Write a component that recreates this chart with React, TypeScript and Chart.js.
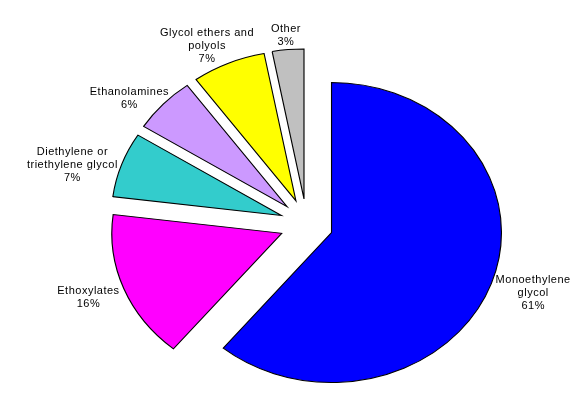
import React, { useEffect, useRef } from 'react';
import { Chart, registerables } from 'chart.js';

Chart.register(...registerables);

// ---- data ----
const categories: string[][] = [
  ['Monoethylene', 'glycol'],
  ['Ethoxylates'],
  ['Diethylene or', 'triethylene glycol'],
  ['Ethanolamines'],
  ['Glycol ethers and', 'polyols'],
  ['Other'],
];
const values: number[] = [61, 16, 7, 6, 7, 3];
const sliceColors: string[] = ['#0000FF', '#FF00FF', '#33CCCC', '#CC99FF', '#FFFF00', '#C0C0C0'];

// ---- styling ----
const STRETCH_X = 1.133; // pie is drawn as an ellipse (wider than tall)
const EXPLODE_X = 26.6; // screen px
const EXPLODE_Y = 25.2;
const LABEL_GAP = 6;
const LABEL_DY = 5;
const LINE_H = 13;
const FONT = '11px "Liberation Sans", Arial, sans-serif';

const explodePlugin = {
  id: 'explodeStretch',
  beforeDatasetsDraw(chart: any) {
    const ctx = chart.ctx;
    const area = chart.chartArea;
    const cx = (area.left + area.right) / 2;
    const cy = (area.top + area.bottom) / 2;
    const meta = chart.getDatasetMeta(0);
    meta.data.forEach((el: any) => {
      const a = (el.startAngle + el.endAngle) / 2;
      el.x = cx + (Math.cos(a) * EXPLODE_X) / STRETCH_X;
      el.y = cy + Math.sin(a) * EXPLODE_Y;
    });
    ctx.save();
    ctx.translate(cx, 0);
    ctx.scale(STRETCH_X, 1);
    ctx.translate(-cx, 0);
  },
  afterDatasetsDraw(chart: any) {
    const ctx = chart.ctx;
    ctx.restore();
    const area = chart.chartArea;
    const cx = (area.left + area.right) / 2;
    const meta = chart.getDatasetMeta(0);
    ctx.save();
    ctx.font = FONT;
    try {
      (ctx as any).letterSpacing = '0.5px';
    } catch (e) {}
    ctx.fillStyle = '#000';
    ctx.textAlign = 'center';
    ctx.textBaseline = 'middle';
    meta.data.forEach((el: any, i: number) => {
      const a = (el.startAngle + el.endAngle) / 2;
      const ux = Math.cos(a);
      const uy = Math.sin(a);
      const vx = cx + STRETCH_X * (el.x - cx);
      const vy = el.y;
      const r = el.outerRadius + LABEL_GAP;
      const ax = vx + STRETCH_X * r * ux;
      const ay = vy + r * uy;
      const lines = [...categories[i], values[i] + '%'];
      const w = Math.max(...lines.map((l) => ctx.measureText(l).width));
      const h = lines.length * LINE_H;
      const mx = ax + (ux * w) / 2;
      const my = ay + (uy * Math.abs(uy) * h) / 2 + LABEL_DY;
      lines.forEach((l, k) => {
        ctx.fillText(l, mx, my - h / 2 + LINE_H * (k + 0.5));
      });
    });
    ctx.restore();
  },
};

export default function App() {
  const ref = useRef<HTMLCanvasElement | null>(null);
  useEffect(() => {
    if (!ref.current) return;
    const chart = new Chart(ref.current, {
      type: 'pie',
      data: {
        labels: categories.map((c) => c.join(' ')),
        datasets: [
          {
            data: values,
            backgroundColor: sliceColors,
            borderColor: '#000000',
            borderWidth: 1,
            radius: 150,
            clip: false,
            borderJoinStyle: 'miter',
          } as any,
        ],
      },
      options: {
        animation: false,
        responsive: false,
        devicePixelRatio: 1,
        events: [],
        layout: { padding: { left: 30, top: 46, right: 0, bottom: 0 } },
        plugins: {
          legend: { display: false },
          tooltip: { enabled: false },
        },
      } as any,
      plugins: [explodePlugin as any],
    });
    return () => chart.destroy();
  }, []);
  return (
    <div style={{ position: 'fixed', left: 0, top: 0, width: 583, height: 402, background: '#fff' }}>
      <canvas ref={ref} width={583} height={402} />
    </div>
  );
}
